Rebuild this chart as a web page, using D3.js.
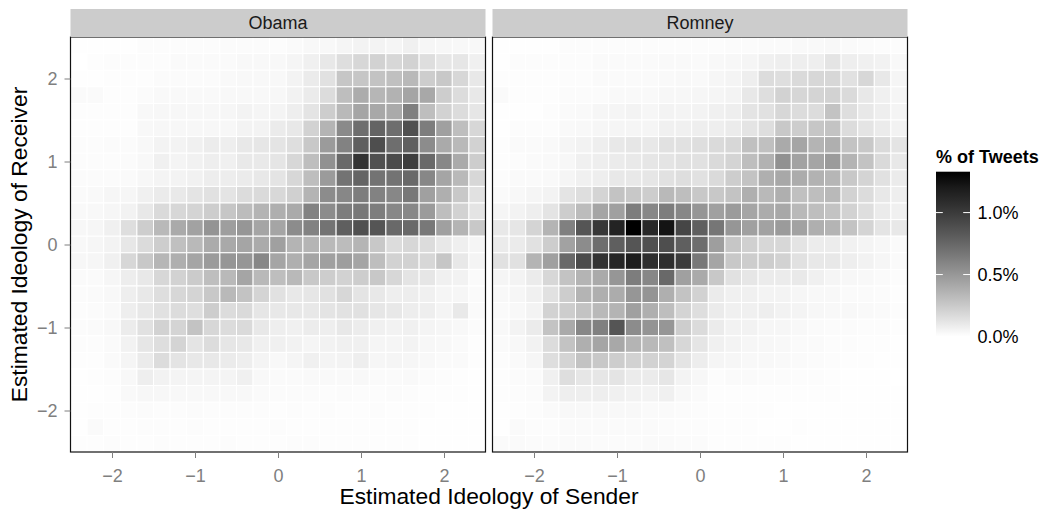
<!DOCTYPE html>
<html>
<head>
<meta charset="utf-8">
<script src="https://cdn.jsdelivr.net/npm/d3@7"></script>
<style>
  body { margin: 0; background: #fff; }
  svg { font-family: "Liberation Sans", Arial, Helvetica, sans-serif; }
  .axis .domain { display: none; }
  .axis line { stroke: #7f7f7f; }
  .axis text { fill: #7f7f7f; font-size: 18px; }
</style>
</head>
<body>
<svg id="chart"></svg>
<script>
// bin centres of the 0.2-wide tiles
var xBins = [-2.4, -2.2, -2.0, -1.8, -1.6, -1.4, -1.2, -1.0, -0.8, -0.6, -0.4, -0.2, 0.0,
             0.2, 0.4, 0.6, 0.8, 1.0, 1.2, 1.4, 1.6, 1.8, 2.0, 2.2, 2.4];
var yBins = [2.4, 2.2, 2.0, 1.8, 1.6, 1.4, 1.2, 1.0, 0.8, 0.6, 0.4, 0.2, 0.0,
             -0.2, -0.4, -0.6, -0.8, -1.0, -1.2, -1.4, -1.6, -1.8, -2.0, -2.2, -2.4];
var panels = ["Obama", "Romney"];
var tickValues = [-2, -1, 0, 1, 2];
var legendBreaks = [0, 0.5, 1.0];

// % of tweets per cell, rows from top (y = 2.4) to bottom (y = -2.4)
var obamaPct = [
  [.005,.005,.005,.005,.014,.014,.014,.014,.014,.019,.019,.019,.014,.024,.033,.033,.047,.056,.056,.047,.069,.042,.038,.033,.033],
  [0,.01,.014,.014,.014,.014,.024,.024,.024,.024,.033,.033,.03,.047,.069,.107,.153,.186,.21,.186,.21,.153,.116,.116,.069],
  [.005,.005,.01,.01,.01,.019,.019,.019,.019,.028,.033,.033,.033,.056,.092,.139,.268,.268,.282,.296,.33,.234,.258,.186,.107],
  [.024,.024,.01,.01,.019,.028,.028,.028,.028,.033,.033,.033,.038,.06,.092,.162,.306,.394,.345,.365,.43,.414,.234,.162,.107],
  [.01,.01,.01,.01,.033,.038,.038,.038,.038,.042,.056,.047,.051,.078,.125,.234,.33,.43,.414,.404,.618,.306,.21,.162,.116],
  [.01,.01,.01,.01,.033,.038,.038,.038,.038,.038,.056,.056,.092,.107,.21,.355,.566,.712,.767,.712,.878,.633,.455,.306,.186],
  [.014,.014,.019,.019,.033,.056,.056,.069,.088,.078,.107,.116,.125,.153,.258,.48,.608,.795,.89,.712,.795,.556,.404,.33,.21],
  [.014,.014,.014,.019,.033,.069,.051,.065,.078,.069,.1,.1,.12,.186,.306,.53,.74,1.05,.878,.906,.98,.74,.582,.404,.234],
  [.019,.019,.019,.024,.038,.051,.056,.065,.083,.083,.092,.107,.125,.186,.306,.48,.685,.767,.685,.685,.74,.582,.43,.33,.186],
  [.024,.028,.042,.042,.069,.092,.1,.125,.139,.125,.162,.172,.18,.22,.355,.556,.582,.633,.608,.582,.658,.455,.38,.258,.139],
  [.028,.033,.042,.06,.107,.172,.186,.2,.234,.268,.316,.355,.38,.404,.608,.556,.633,.658,.633,.582,.582,.48,.306,.21,.125],
  [.038,.042,.069,.153,.234,.33,.404,.445,.514,.465,.504,.43,.43,.556,.608,.685,.795,.878,.85,.74,.74,.658,.455,.355,.258],
  [.033,.042,.056,.11,.167,.234,.296,.33,.4,.41,.43,.4,.455,.355,.35,.33,.316,.35,.258,.162,.186,.162,.107,.073,.047],
  [.038,.042,.069,.186,.258,.345,.38,.43,.48,.504,.504,.582,.43,.38,.43,.455,.465,.43,.306,.21,.21,.186,.268,.107,.051],
  [.024,.024,.042,.083,.107,.186,.21,.244,.306,.33,.43,.33,.306,.33,.258,.234,.21,.234,.258,.186,.125,.116,.069,.06,.024],
  [.019,.024,.033,.078,.107,.153,.186,.2,.258,.33,.282,.2,.139,.107,.116,.139,.186,.125,.107,.078,.083,.069,.047,.042,.024],
  [.014,.019,.028,.078,.107,.139,.162,.153,.234,.162,.172,.116,.107,.107,.107,.125,.135,.139,.116,.107,.083,.078,.051,.1,.024],
  [.019,.024,.033,.088,.139,.21,.2,.282,.186,.162,.172,.107,.078,.069,.088,.078,.107,.088,.069,.06,.069,.051,.042,.033,.019],
  [.014,.014,.024,.06,.116,.153,.2,.125,.162,.116,.107,.069,.069,.06,.047,.06,.069,.069,.047,.047,.056,.038,.033,.024,.01],
  [.01,.01,.024,.047,.092,.162,.125,.107,.107,.092,.078,.051,.033,.047,.069,.051,.056,.078,.042,.047,.042,.033,.024,.024,.01],
  [.005,.01,.014,.033,.078,.06,.051,.051,.051,.051,.069,.033,.024,.024,.028,.028,.028,.033,.024,.024,.028,.019,.014,.01,.005],
  [.005,.005,.01,.028,.038,.038,.033,.033,.033,.033,.033,.024,.019,.019,.019,.014,.019,.014,.014,.019,.014,.01,.01,.01,.005],
  [.005,.01,.01,.014,.019,.014,.014,.019,.014,.014,.014,.014,.01,.014,.01,.014,.01,.01,.014,.01,.01,.01,.005,.005,.005],
  [.005,.024,.01,.01,.014,.014,.01,.014,.01,.01,.01,.01,.014,.01,.01,.01,.01,.01,.01,.01,.01,.005,.005,.005,.005],
  [.01,.01,.014,.01,.01,.014,.01,.01,.01,.014,.01,.01,.01,.014,.014,.01,.01,.01,.01,.01,.01,.005,.005,.005,.005]
];

var romneyPct = [
  [.005,.005,.005,.005,.014,.014,.014,.014,.014,.014,.014,.014,.014,.014,.019,.019,.024,.024,.028,.028,.033,.024,.019,.014,.014],
  [.005,.014,.014,.014,.014,.014,.024,.024,.024,.024,.028,.028,.024,.033,.038,.047,.069,.078,.078,.078,.125,.078,.069,.06,.033],
  [.01,.01,.01,.01,.014,.014,.024,.024,.024,.024,.028,.033,.028,.042,.051,.078,.162,.153,.172,.186,.186,.139,.186,.107,.047],
  [.024,.01,.01,.01,.019,.019,.019,.028,.028,.028,.038,.038,.042,.047,.056,.107,.153,.21,.19,.2,.21,.172,.107,.069,.047],
  [.005,.005,.005,.014,.024,.028,.042,.047,.056,.042,.056,.051,.056,.069,.078,.125,.139,.186,.162,.162,.282,.153,.107,.078,.051],
  [.005,.014,.014,.014,.028,.033,.042,.047,.047,.047,.069,.069,.078,.078,.092,.125,.153,.258,.234,.268,.282,.162,.125,.092,.06],
  [.01,.024,.024,.028,.047,.06,.078,.107,.116,.107,.139,.139,.153,.172,.186,.296,.296,.404,.43,.355,.38,.282,.258,.172,.125],
  [.01,.014,.024,.028,.038,.069,.078,.092,.1,.116,.125,.139,.139,.172,.2,.306,.365,.53,.445,.43,.48,.355,.282,.172,.107],
  [.014,.024,.024,.028,.047,.069,.078,.107,.107,.116,.139,.153,.139,.172,.234,.282,.38,.414,.394,.365,.345,.258,.2,.139,.092],
  [.024,.033,.047,.056,.125,.153,.2,.282,.258,.234,.33,.306,.258,.258,.282,.38,.33,.38,.296,.306,.33,.21,.162,.107,.078],
  [.047,.056,.078,.125,.234,.316,.43,.455,.633,.582,.633,.582,.504,.455,.48,.43,.394,.414,.33,.306,.282,.21,.153,.092,.069],
  [.107,.116,.2,.355,.618,.85,1.02,1.15,1.33,1.116,1.246,.935,.795,.669,.504,.455,.445,.48,.445,.38,.355,.282,.2,.125,.107],
  [.092,.092,.139,.234,.445,.556,.712,.795,.85,.878,.89,.795,.72,.465,.268,.22,.186,.186,.125,.088,.088,.065,.051,.038,.024],
  [.139,.139,.355,.455,.74,.906,1.05,1.13,1.19,1.08,1.08,.994,.658,.43,.258,.234,.234,.21,.139,.107,.107,.078,.06,.042,.024],
  [.047,.056,.092,.186,.282,.355,.404,.504,.633,.582,.74,.455,.404,.258,.139,.116,.092,.092,.1,.069,.047,.038,.033,.024,.014],
  [.033,.042,.069,.139,.234,.355,.38,.394,.504,.514,.38,.282,.21,.092,.069,.069,.056,.056,.042,.033,.033,.024,.024,.019,.01],
  [.024,.033,.056,.21,.234,.282,.33,.355,.455,.38,.306,.2,.153,.092,.069,.069,.078,.06,.051,.038,.033,.033,.028,.024,.014],
  [.033,.056,.092,.282,.404,.582,.618,.85,.556,.514,.504,.234,.167,.092,.06,.06,.042,.042,.033,.024,.019,.019,.014,.014,.01],
  [.024,.033,.06,.162,.282,.38,.43,.414,.355,.33,.296,.186,.12,.069,.056,.042,.038,.033,.024,.024,.014,.014,.01,.01,.005],
  [.014,.024,.042,.153,.2,.282,.258,.234,.21,.21,.2,.125,.083,.047,.042,.033,.033,.028,.024,.019,.014,.01,.01,.005,.005],
  [.01,.019,.024,.069,.153,.116,.116,.125,.092,.092,.116,.056,.038,.014,.024,.024,.019,.019,.014,.014,.01,.005,.005,.005,0],
  [.01,.014,.019,.056,.078,.078,.078,.069,.06,.056,.069,.033,.024,.01,.01,.01,.01,.01,.01,.01,.01,.005,.005,.005,.005],
  [.005,.01,.014,.024,.033,.033,.033,.033,.033,.024,.024,.019,.014,.01,.01,.01,.01,.005,.005,.005,.005,.005,.005,.005,.005],
  [.005,.024,.014,.014,.024,.024,.024,.024,.024,.024,.019,.014,.014,.01,.01,.01,.005,.005,.01,.005,.005,.005,.005,.005,.005],
  [.024,.024,.019,.019,.024,.024,.019,.019,.019,.024,.024,.019,.019,.01,.01,.01,.01,.01,.005,.005,.005,.005,.005,.005,.005]
];

var panelData = [obamaPct, romneyPct];

// layout
var width = 1051, height = 511;
var panelW = 415, panelH = 415, panelTop = 37;
var panelLeft = [70.5, 492.5];
var stripH = 28;

var svg = d3.select("#chart")
    .attr("width", width)
    .attr("height", height);

var maxPct = 1.33;
var color = d3.scaleSequential(d3.interpolateLab("#ffffff", "#000000"))
    .domain([0, maxPct]);

var tickFmt = d3.format("d");

var y = d3.scaleLinear()
    .domain([-2.5, 2.5])
    .range([panelTop + panelH, panelTop]);

panels.forEach(function (name, i) {
    var x = d3.scaleLinear()
        .domain([-2.5, 2.5])
        .range([panelLeft[i], panelLeft[i] + panelW]);

    // flatten matrix into cells
    var cells = [];
    panelData[i].forEach(function (row, r) {
        row.forEach(function (v, c) {
            cells.push({ x: xBins[c], y: yBins[r], pct: v });
        });
    });

    var clipId = "clip" + i;
    svg.append("clipPath").attr("id", clipId)
        .append("rect")
        .attr("x", panelLeft[i]).attr("y", panelTop)
        .attr("width", panelW).attr("height", panelH);

    var g = svg.append("g").attr("clip-path", "url(#" + clipId + ")");

    g.append("rect")
        .attr("x", panelLeft[i]).attr("y", panelTop)
        .attr("width", panelW).attr("height", panelH)
        .attr("fill", "#fff");

    g.selectAll("rect.tile")
        .data(cells)
        .join("rect")
        .attr("class", "tile")
        .attr("x", d => x(d.x - 0.1))
        .attr("y", d => y(d.y + 0.1))
        .attr("width", d => x(d.x + 0.1) - x(d.x - 0.1))
        .attr("height", d => y(d.y - 0.1) - y(d.y + 0.1))
        .attr("fill", d => color(d.pct))
        .attr("stroke", "#fff")
        .attr("stroke-width", 1);

    // panel border
    svg.append("rect")
        .attr("x", panelLeft[i]).attr("y", panelTop)
        .attr("width", panelW).attr("height", panelH)
        .attr("fill", "none")
        .attr("stroke", "#111")
        .attr("stroke-width", 1.2);

    // facet strip
    svg.append("rect")
        .attr("x", panelLeft[i]).attr("y", panelTop - stripH)
        .attr("width", panelW).attr("height", stripH)
        .attr("fill", "#cccccc");
    svg.append("text")
        .attr("x", panelLeft[i] + panelW / 2)
        .attr("y", panelTop - stripH / 2)
        .attr("dy", "0.36em")
        .attr("text-anchor", "middle")
        .attr("font-size", "18px")
        .attr("fill", "#1a1a1a")
        .text(name);

    // x axis
    svg.append("g")
        .attr("class", "axis")
        .attr("transform", "translate(0," + (panelTop + panelH) + ")")
        .call(d3.axisBottom(x).tickValues(tickValues).tickFormat(tickFmt)
            .tickSize(6).tickPadding(11));

    if (i === 0) {
        svg.append("g")
            .attr("class", "axis")
            .attr("transform", "translate(" + panelLeft[0] + ",0)")
            .call(d3.axisLeft(y).tickValues(tickValues).tickFormat(tickFmt)
                .tickSize(6).tickPadding(7));
    }
});

// axis titles
svg.append("text")
    .attr("x", (panelLeft[0] + panelLeft[1] + panelW) / 2)
    .attr("y", 504)
    .attr("text-anchor", "middle")
    .attr("font-size", "22.8px")
    .attr("fill", "#000")
    .text("Estimated Ideology of Sender");

svg.append("text")
    .attr("transform", "rotate(-90)")
    .attr("x", -(panelTop + panelH / 2))
    .attr("y", 27)
    .attr("text-anchor", "middle")
    .attr("font-size", "22.8px")
    .attr("fill", "#000")
    .text("Estimated Ideology of Receiver");

// colour bar legend
var barX = 936, barW = 34;
var legendY = d3.scaleLinear().domain([0, maxPct]).range([336.5, 171.7]);

var grad = svg.append("defs").append("linearGradient")
    .attr("id", "barGrad")
    .attr("x1", 0).attr("y1", 1).attr("x2", 0).attr("y2", 0);
d3.range(0, 1.0001, 0.1).forEach(function (t) {
    grad.append("stop")
        .attr("offset", t)
        .attr("stop-color", color(t * maxPct));
});

svg.append("rect")
    .attr("x", barX).attr("y", legendY(maxPct))
    .attr("width", barW).attr("height", legendY(0) - legendY(maxPct))
    .attr("fill", "url(#barGrad)");

legendBreaks.forEach(function (b) {
    var yy = legendY(b);
    if (b > 0) {
        svg.append("line")
            .attr("x1", barX).attr("x2", barX + barW / 5)
            .attr("y1", yy).attr("y2", yy)
            .attr("stroke", "#fff").attr("stroke-width", 1);
        svg.append("line")
            .attr("x1", barX + barW - barW / 5).attr("x2", barX + barW)
            .attr("y1", yy).attr("y2", yy)
            .attr("stroke", "#fff").attr("stroke-width", 1);
    }
    svg.append("text")
        .attr("x", 977.5)
        .attr("y", yy)
        .attr("dy", "0.36em")
        .attr("font-size", "18px")
        .attr("fill", "#000")
        .text(d3.format(".1f")(b) + "%");
});

svg.append("text")
    .attr("x", 936)
    .attr("y", 163)
    .attr("font-size", "18px")
    .attr("font-weight", "bold")
    .attr("fill", "#000")
    .text("% of Tweets");
</script>
</body>
</html>
